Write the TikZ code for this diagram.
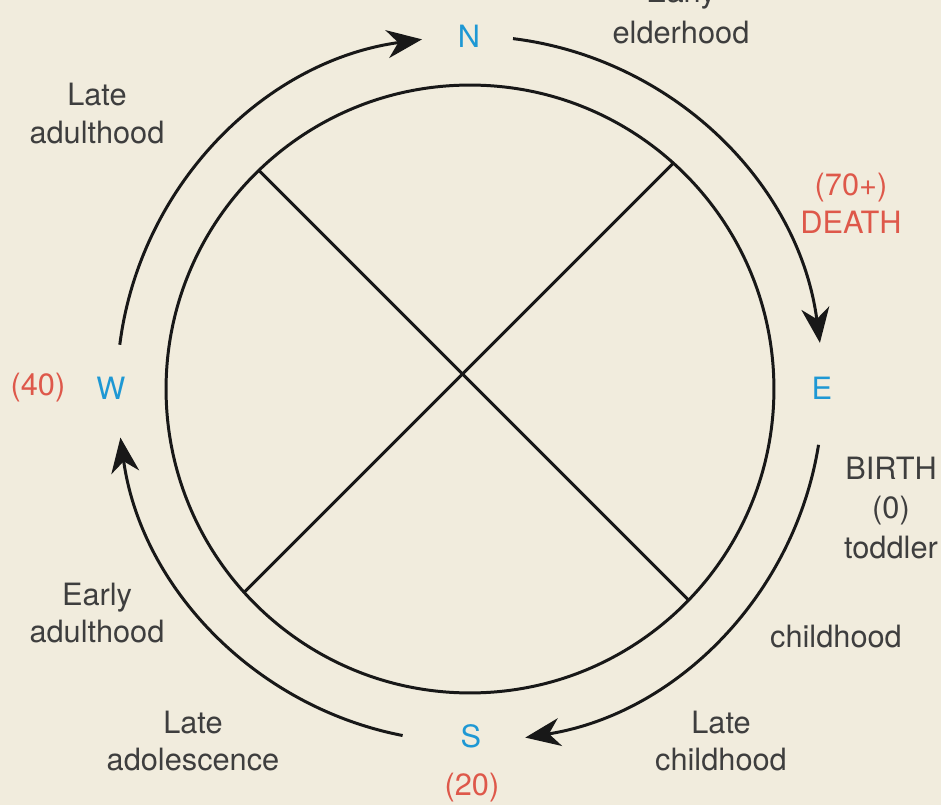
\documentclass[tikz,border=0pt]{standalone}
\usepackage{fontspec}
\setmainfont{TeX Gyre Heros}
\usetikzlibrary{arrows.meta, positioning, calc}
\definecolor{paper}{RGB}{241,236,221}
\definecolor{ink}{RGB}{24,24,24}
\definecolor{compass}{RGB}{30,152,212}
\definecolor{agered}{RGB}{222,88,74}
\definecolor{stagegray}{RGB}{62,62,62}

\begin{document}
\begin{tikzpicture}[
                x=0.02cm, y=0.02cm,
                wheel/.style={circle, draw=ink, line width=1.7pt, minimum size=12.16cm, inner sep=0pt, outer sep=0pt},
                spoke/.style={ink, line width=1.7pt},
                cyclearrow/.style={ink, line width=1.7pt, -{Stealth[length=0.7cm, width=0.56cm, inset=0.22cm]}},
                point/.style={text=compass, font=\fontsize{17.5}{21.6}\selectfont},
                age/.style={text=agered, align=center, font=\fontsize{17.5}{21.6}\selectfont},
                stage/.style={text=stagegray, align=center, font=\fontsize{17.5}{21.6}\selectfont},
            ]
                \fill[paper] (-470,-416) rectangle (471,389);
                \clip (-470,-416) rectangle (471,389);

                \node[wheel] (ring) at (0,0) {};
                \draw[spoke] (ring.134.5) -- (ring.-44.3);
                \draw[spoke] (ring.48.2) -- (ring.222.5);

                \node[point] (north) at (-1,353) {N};
                \node[point] (east) at (352,1) {E};
                \node[point] (south) at (1,-347) {S};
                \node[point] (west) at (-359,1) {W};

                \coordinate (ne) at (83:353);
                \coordinate (se) at (-9.1:353);
                \coordinate (sw) at (-101:353);
                \coordinate (nw) at (172.8:353);
                \draw[cyclearrow] (ne) arc[start angle=83, end angle=7.5, radius=7.06cm];
                \draw[cyclearrow] (se) arc[start angle=-9.1, end angle=-81, radius=7.06cm];
                \draw[cyclearrow] (sw) arc[start angle=-101, end angle=-172.1, radius=7.06cm];
                \draw[cyclearrow] (nw) arc[start angle=172.8, end angle=97.8, radius=7.06cm];

                \node[age] (forty) at (-432,1) {(40)};
                \node[age] (twenty) at (2,-399) {(20)};
                \node[age] (death) at (381,185.5) {(70+)\\DEATH};

                \node[stage, font=\fontsize{17.5}{22.6}\selectfont] (birth) at (421,-119) {BIRTH\\(0)\\toddler};
                \node[stage] (child) at (366,-248) {childhood};
                \node[stage] (latechild) at (251,-352) {Late\\childhood};
                \node[stage] (lateadol) at (-277,-352) {Late\\adolescence};
                \node[stage] (earlyadult) at (-373,-224) {Early\\adulthood};
                \node[stage] (lateadult) at (-373,275.5) {Late\\adulthood};
                \node[stage, font=\fontsize{17.5}{23.5}\selectfont] (earlyelder) at (211,377) {Early\\elderhood};
            \end{tikzpicture}
\end{document}
